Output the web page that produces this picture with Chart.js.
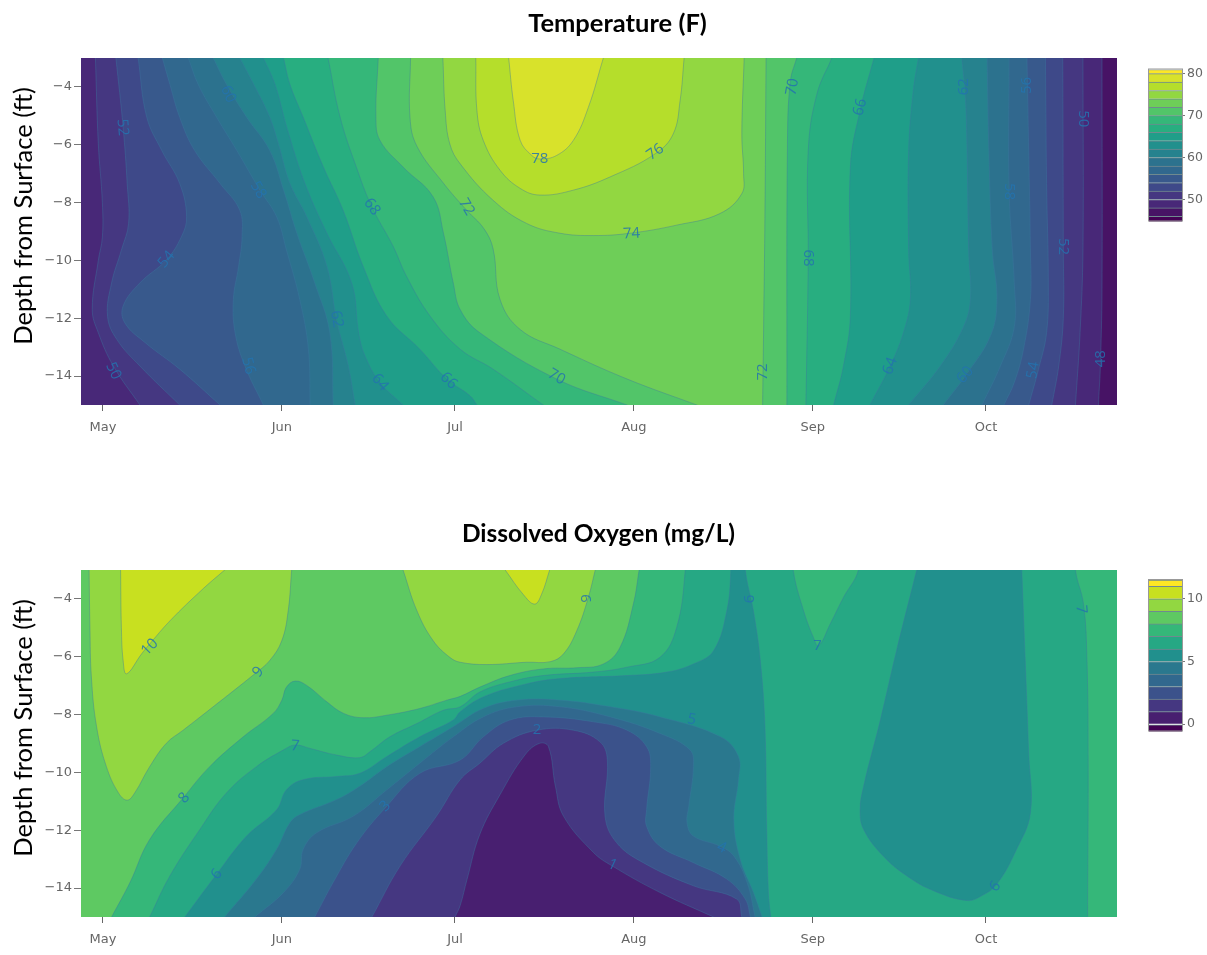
<!DOCTYPE html>
<html>
<head>
<meta charset="utf-8">
<title>Temperature and Dissolved Oxygen</title>
<script src="https://cdn.jsdelivr.net/npm/chart.js@4"></script>
<style>
  html, body { margin: 0; background: #fff; overflow: hidden; width: 1207px; height: 955px; }
  canvas { position: absolute; display: block; }
</style>
</head>
<body>
<canvas id="temp-chart" width="1207" height="440" style="left:0;top:0"></canvas>
<canvas id="temp-bar" width="67" height="170" style="left:1140px;top:60px"></canvas>
<canvas id="do-chart" width="1207" height="440" style="left:0;top:512px"></canvas>
<canvas id="do-bar" width="67" height="170" style="left:1140px;top:570px"></canvas>
<script>
// Axis ticks: x is days since May 1, y is depth in feet
const monthTicks = [0, 31, 61, 92, 123, 153];
const monthLabels = ['May', 'Jun', 'Jul', 'Aug', 'Sep', 'Oct'];
const depthTicks = [-4, -6, -8, -10, -12, -14];

// Temperature contours, [day, depth], left edge then right edge of each level
const temp50L = [[-1.3,-3],[-0.8,-5.97],[-0.1,-8],[-0.1,-9.2],[-0.8,-10],[-1.85,-11.7],[-0.8,-12.5],[1.8,-13.65],[6.4,-15]];
const temp52L = [[2.25,-3],[3.5,-5.4],[4.2,-7.34],[4.45,-8.72],[3.2,-9.64],[1.5,-10.78],[0.8,-11.93],[2.4,-12.73],[6.4,-13.65],[13.3,-15]];
const temp54L = [[6.1,-3],[7.6,-5.05],[10.2,-6.2],[13.3,-7.34],[14.5,-8.49],[13.6,-9.18],[11,-9.98],[6.4,-10.78],[3.5,-11.58],[3.8,-12.16],[7.3,-12.84],[13.3,-13.76],[20.3,-15]];
const temp56L = [[10.3,-3],[11.6,-3.91],[13.3,-5.05],[15.9,-6.2],[20.3,-7.34],[23.7,-8.26],[24.1,-9.18],[23.5,-10.21],[22.6,-11.35],[22.9,-12.5],[24.6,-13.65],[27.8,-15]];
const temp58L = [[14.8,-3],[16.5,-3.91],[19.7,-5.05],[23.2,-6.2],[27.2,-7.57],[30.1,-8.49],[31.8,-9.64],[34.1,-11.35],[35.6,-13.07],[35.9,-15]];
const temp60L = [[19.1,-3],[21.4,-3.91],[24.9,-5.05],[28.9,-6.2],[31.3,-7.57],[33.6,-9.06],[36.7,-10.78],[39.3,-12.5],[39.9,-15]];
const temp62L = [[23.7,-3],[26.1,-3.91],[28.9,-5.05],[30.4,-5.97],[32.4,-7.34],[35.3,-8.49],[38.8,-10.21],[40.5,-12.08],[42.5,-13.65],[43.7,-15]];
const temp64L = [[27.8,-3],[29.8,-3.91],[32,-5.5],[35,-7.34],[38.8,-9.06],[43.1,-10.78],[44.3,-12.5],[45.4,-13.3],[48,-14.22],[52,-15]];
const temp66L = [[31.3,-3],[32.4,-3.91],[34.7,-5.05],[38.2,-6.77],[41.6,-8.26],[45.1,-10.21],[49.2,-11.93],[54.9,-13.07],[59.6,-14.1],[63.6,-14.68],[64.8,-15]];
const temp68L = [[39,-3],[41.1,-5.05],[43.9,-6.77],[46.6,-8.15],[50.3,-9.52],[52.6,-10.55],[56.7,-11.93],[61.9,-13.07],[67.6,-13.76],[76.3,-15]];
const temp70L = [[47.7,-3],[47.3,-5.05],[48,-5.85],[52,-6.77],[57.2,-7.8],[59,-9.06],[60.7,-10.78],[61.9,-11.7],[65.3,-12.5],[78.6,-14.1],[90.8,-15]];
const temp72L = [[53.3,-3],[53.2,-5.05],[54.4,-6.05],[59,-7.33],[63,-8.26],[66,-8.9],[67.6,-9.6],[68.8,-11.35],[72.3,-12.39],[79.2,-13.07],[90.8,-14.1],[102.9,-15]];
const temp48R = [[173.1,-3],[173.1,-11],[172.8,-13.76],[172.5,-15]];
const temp50R = [[169.8,-3],[169.8,-9.64],[169.3,-12.5],[168.5,-15]];
const temp52R = [[166.3,-3],[166.4,-9.64],[166.4,-12],[165.6,-13.65],[164.4,-15]];
const temp54R = [[163.3,-3],[163.5,-7.34],[163.8,-10.78],[163.5,-12.5],[162.1,-13.76],[160.4,-15]];
const temp56R = [[160.1,-3],[160.4,-6.2],[160.7,-9.64],[160.7,-11.35],[159.5,-13.07],[157.9,-14.22],[156.1,-15]];
const temp58R = [[157,-3],[157,-7.57],[157.9,-10.78],[157.9,-12.3],[155.5,-13.65],[152.3,-15]];
const temp60R = [[153.2,-3],[153.5,-6.2],[154.1,-9.64],[154.9,-11.35],[153.8,-12.6],[149.4,-14],[145.6,-15]];
const temp62R = [[148.8,-3],[149.4,-4.25],[149.7,-5.97],[150,-9.64],[150.3,-11.35],[149.1,-12.3],[145.1,-13.65],[139.6,-15]];
const temp64R = [[141.3,-3],[140.4,-4.14],[139.6,-6.2],[139.6,-9.64],[139.9,-11.35],[138.7,-12.5],[136.4,-13.65],[132.9,-15]];
const temp66R = [[133.6,-3],[131.2,-4.8],[129.5,-6.77],[129.5,-11.93],[128.3,-13.65],[126.6,-15]];
const temp68R = [[126.3,-3],[123.7,-4.25],[122.2,-6.2],[122.2,-9.98],[121.8,-15]];
const temp70R = [[120.2,-3],[119.1,-3.8],[118.6,-6],[118.5,-15]];
const temp72R = [[114.9,-3],[114.7,-8.5],[114.5,-11.9],[114.3,-15]];
const temp74Loop = [[58.9,-3],[59.3,-4.82],[60.1,-5.97],[61.9,-6.66],[67.6,-7.92],[73.4,-8.72],[79.2,-9.06],[85,-9.14],[91.3,-9.06],[99.4,-8.78],[106.9,-8.38],[110.7,-7.69],[111,-7],[110.7,-5.63],[111.1,-3]];
const temp76Loop = [[64.6,-3],[64.8,-4.82],[65.9,-5.85],[68.8,-6.88],[72.3,-7.51],[75.7,-7.74],[81.5,-7.57],[87.9,-7.11],[95.7,-6.31],[98.8,-5.63],[100,-4.48],[100.7,-3]];
const temp78Loop = [[70.3,-3],[71.1,-4.48],[72.3,-5.85],[74.3,-6.37],[75.7,-6.49],[78.6,-6.37],[81.5,-5.85],[84.1,-4.71],[86.7,-3]];

// Temperature colour bar and fills
const tempEdges = [45,46,48,50,52,54,56,58,60,62,64,66,68,70,72,74,76,78,80,81];
const tempColors = ['#440154','#471365','#482878','#453781','#3e4989','#38598c','#31688e','#2c728e','#26828e','#21908d','#1f9e89','#28ae80','#35b779','#52c569','#6ece58','#92d741','#b5de2b','#d8e22b','#fde725'];
const tempBarTicks = [50, 60, 70, 80];

// Temperature contour labels
const tempLabelText = ['52','50','54','56','58','60','62','64','66','68','72','70','78','76','74','72','70','68','66','64','62','60','58','56','54','52','50','48'];
const tempLabelDay = [3.4,1.8,11,25.2,26.9,21.7,40.5,48,59.9,46.6,63,78.6,75.7,95.7,91.6,114.3,119.5,122.2,131.2,136.4,149.1,149.4,157.1,160.1,161.2,166.4,169.8,172.8];
const tempLabelDepth = [-5.4,-13.82,-9.97,-13.65,-7.57,-4.25,-12.03,-14.22,-14.16,-8.15,-8.15,-14.03,-6.49,-6.25,-9.08,-13.86,-4,-9.92,-4.7,-13.65,-3.99,-13.96,-7.62,-3.95,-13.8,-9.52,-5.1,-13.4];
const tempLabelAngle = [85,65,-50,75,60,65,80,50,45,55,60,30,0,-35,-3,-90,-80,90,-75,-70,-90,-50,90,-90,-80,90,90,-90];

// Dissolved oxygen contours, same units
const do10West = [[3.06,-3],[3.2,-4.99],[3.5,-6.13],[4.1,-6.59],[6.7,-5.9],[8.1,-5.56],[11.6,-4.76],[17.4,-3.64],[21.1,-3]];
const do10Mid = [[69.7,-3],[72.8,-3.84],[74.8,-4.18],[76,-3.84],[77.4,-3]];
const do9West = [[-2.4,-3],[-2.25,-4.99],[-2,-6.7],[-1.1,-8.42],[0.6,-9.8],[2.7,-10.71],[4.2,-10.96],[5.5,-10.71],[8.1,-9.8],[11,-8.99],[13.9,-8.54],[19.1,-7.73],[26.3,-6.59],[28.9,-6.13],[31,-5.44],[32.1,-4.41],[32.7,-3]];
const do9Mid = [[52,-3],[54.4,-4.41],[57.2,-5.44],[60.1,-6.02],[61.9,-6.19],[66.5,-6.27],[73.4,-6.19],[77.5,-6.17],[79.8,-5.9],[82.1,-5.1],[84.1,-3.95],[85.3,-3]];
const do8Edge = [[-20,-16],[-1.2,-16],[1.5,-15],[4.7,-13.8],[8.1,-12.32],[13.9,-10.88],[18.5,-9.8],[24.3,-8.77],[29.5,-7.96],[31,-7.5],[31.8,-7.05],[33.3,-6.84],[35.3,-6.99],[38.8,-7.56],[41.7,-7.96],[45.1,-8.11],[49.2,-8.02],[54.9,-7.79],[59.6,-7.5],[61.9,-7.37],[65.3,-7.05],[70.5,-6.65],[76.3,-6.42],[82.1,-6.38],[86.7,-6.25],[89.6,-5.67],[91.9,-4.18],[92.9,-3],[93.7,-2],[-20,-2]];
const do7Edge = [[8.1,-15],[11.6,-13.58],[16.8,-11.97],[21.4,-10.71],[26.6,-9.8],[31.3,-9.22],[33.3,-9.05],[35.9,-9.17],[40.5,-9.4],[44.5,-9.49],[46.3,-9.28],[49.7,-8.77],[54.4,-8.31],[59,-7.85],[61.9,-7.73],[65.3,-7.22],[70.5,-6.87],[76.3,-6.65],[85,-6.53],[90.8,-6.36],[96.5,-6.02],[99.4,-4.99],[100.9,-3],[100.9,-2],[119.6,-2],[119.6,-3],[121.4,-4.41],[123.1,-5.33],[124,-5.62],[126,-4.87],[128.3,-3.95],[130.9,-3],[130.9,-2],[168.5,-2],[168.5,-3],[169.9,-4.18],[170.5,-6.13],[170.7,-9.57],[170.6,-15]];
const do6Edge = [[14.2,-15],[19.7,-13.52],[24.9,-12.2],[30.1,-11.29],[31.8,-10.6],[34.7,-10.25],[40.5,-10.14],[44.5,-10.03],[49.2,-9.45],[54.9,-8.77],[60.7,-8.19],[61.9,-7.9],[65.9,-7.39],[72.3,-6.99],[78.8,-6.76],[90.8,-6.65],[97.7,-6.53],[102.3,-6.25],[105.8,-5.79],[108.1,-4.41],[108.8,-3],[108.8,-2],[111.3,-2],[111.3,-3],[112.7,-4.41],[113.9,-6.13],[114.7,-8.42],[115,-11.86],[115.3,-14.15],[115.7,-15]];
const do6Hole = [[141,-3],[137.5,-5.79],[134.7,-8.19],[131.8,-10.48],[131.2,-11.29],[131.8,-11.97],[135.2,-12.89],[139.3,-13.58],[143.9,-14.09],[149.7,-14.43],[152.3,-14.26],[154.9,-13.86],[158.3,-12.66],[160.7,-11.4],[160.4,-9.34],[159.8,-6.13],[159.2,-3]];
const do5Edge = [[21.1,-15],[26.6,-13.69],[30.1,-12.66],[32.4,-11.74],[34.1,-11.46],[40.5,-10.94],[44.5,-10.48],[49.2,-9.8],[54.9,-9.11],[60.7,-8.42],[65.9,-7.79],[71.7,-7.5],[79.2,-7.5],[87.9,-7.73],[96.5,-8.08],[107,-8.77],[110.1,-9.45],[110.1,-10.25],[109.3,-11.63],[110.4,-13],[112.7,-14.15],[114.2,-15]];
const do4Edge = [[26.3,-15],[31.3,-14.15],[34.1,-13.35],[34.7,-12.66],[37,-12.09],[43.4,-11.51],[49.2,-10.6],[54.9,-9.68],[60.7,-8.77],[65.9,-8.08],[71.7,-7.73],[79.2,-7.73],[87.9,-8.08],[96.5,-8.65],[101.7,-9.22],[102.3,-9.8],[101.5,-11.17],[101.2,-11.74],[102.3,-12.2],[106.9,-12.55],[109.3,-12.89],[111.6,-13.8],[113,-15]];
const do3Edge = [[36.7,-15],[39.9,-13.8],[44,-12.43],[48.9,-11.23],[54.9,-10.03],[61.9,-9.57],[65.9,-8.77],[70.5,-8.19],[76.3,-8.08],[85,-8.25],[90.8,-8.54],[94.2,-9.11],[94.9,-9.8],[94.2,-11.29],[94.2,-11.86],[96.5,-12.55],[102.3,-13.12],[108.1,-13.69],[111.3,-14.38],[112.2,-15]];
const do2Edge = [[46.6,-15],[51.5,-13.23],[57.8,-11.51],[61.9,-10.25],[65.3,-9.68],[69.4,-8.99],[75.2,-8.54],[81.5,-8.54],[86.1,-8.94],[87.4,-9.57],[87,-11.51],[89,-12.43],[93.6,-13.12],[102.3,-13.92],[109.8,-14.38],[110.7,-15]];
const do1Edge = [[61,-15],[61.9,-14.6],[63.1,-13.69],[65.3,-12.14],[68.8,-10.77],[73.1,-9.4],[75.7,-8.99],[77.2,-9.11],[78.4,-10.48],[79.8,-11.51],[85,-12.77],[88.2,-13.23],[96.5,-14.15],[105.8,-15]];

// Dissolved oxygen colour bar and fills
const doEdges = [-0.5,0,1,2,3,4,5,6,7,8,9,10,11,11.5];
const doColors = ['#440154','#481f70','#453781','#3b528b','#31688e','#2a788e','#21908d','#26a884','#35b779','#5ec962','#92d741','#c8e020','#fde725'];
const doBarTicks = [0, 5, 10];

// Dissolved oxygen contour labels
const doLabelText = ['10','9','8','7','6','3','9','6','2','1','5','4','7','6','7'];
const doLabelDay = [8.1,26.9,14.1,33.3,19.7,48.9,83.8,112,75.2,88.3,102,107.2,123.8,154.6,169.5];
const doLabelDepth = [-5.67,-6.53,-10.88,-9.09,-13.52,-11.17,-3.98,-4,-8.51,-13.2,-8.17,-12.6,-5.62,-13.94,-4.36];
const doLabelAngle = [-45,-50,-50,5,-50,-45,-90,-90,0,25,10,25,0,-50,85];

const wholePlot = [[-20,-2],[200,-2],[200,-16],[-20,-16]];
const fontTicks = '"DejaVu Sans", sans-serif';
const fontTitles = 'Lato, sans-serif';

// Carries a contour's last stretch on past the plot edge so it leaves the plot without a hook
function beyond(a, b, depth) {
  const slope = (a[0] - b[0]) / (a[1] - b[1]);
  return [a[0] + slope * (depth - a[1]), depth];
}

function capped(list, depth) {
  const n = list.length;
  return [beyond(list[0], list[1], depth), ...list, beyond(list[n - 1], list[n - 2], depth)];
}

// Region between a left and a right contour
function bandShape(left, right) {
  const l = left.length;
  const r = right.length;
  return [beyond(left[0], left[1], -2), ...left, beyond(left[l - 1], left[l - 2], -16),
    beyond(right[r - 1], right[r - 2], -16), ...right.slice().reverse(), beyond(right[0], right[1], -2)];
}

const tempShapes = [
  wholePlot,
  [[-20,-2],[-20,-16],[172.5,-16],...temp48R.slice().reverse(),[173.1,-2]],
  bandShape(temp50L, temp50R), bandShape(temp52L, temp52R), bandShape(temp54L, temp54R),
  bandShape(temp56L, temp56R), bandShape(temp58L, temp58R), bandShape(temp60L, temp60R),
  bandShape(temp62L, temp62R), bandShape(temp64L, temp64R), bandShape(temp66L, temp66R),
  bandShape(temp68L, temp68R), bandShape(temp70L, temp70R), bandShape(temp72L, temp72R),
  capped(temp74Loop, -2), capped(temp76Loop, -2), capped(temp78Loop, -2)
];
const tempFills = tempColors.slice(1, 18);

const doShapes = [
  wholePlot, do8Edge, capped(do9West, -2), capped(do9Mid, -2), capped(do10West, -2), capped(do10Mid, -2),
  capped(do7Edge, -16), capped(do6Edge, -16), capped(do6Hole, -2), capped(do5Edge, -16),
  capped(do4Edge, -16), capped(do3Edge, -16), capped(do2Edge, -16), capped(do1Edge, -16)
];
const doFills = [doColors[8], doColors[9], doColors[10], doColors[10], doColors[11], doColors[11],
  doColors[7], doColors[6], doColors[6], doColors[5], doColors[4], doColors[3], doColors[2], doColors[1]];

// Writes the level numbers along the contours, the side title, and moves the chart title
const contourLabels = {
  id: 'contourLabels',
  afterLayout(chart, args, opts) {
    chart.titleBlock.left = 2 * opts.titleCenter - 1207;
    chart.titleBlock.right = 1207;
  },
  afterDatasetsDraw(chart, args, opts) {
    const { ctx, scales, chartArea } = chart;
    ctx.save();
    ctx.font = '15px "Open Sans", sans-serif';
    ctx.textAlign = 'center';
    ctx.textBaseline = 'middle';
    ctx.fillStyle = 'rgba(35,115,175,0.85)';
    opts.text.forEach((t, i) => {
      ctx.save();
      ctx.translate(scales.x.getPixelForValue(opts.day[i]), scales.y.getPixelForValue(opts.depth[i]));
      ctx.rotate(opts.angle[i] * Math.PI / 180);
      ctx.fillText(t, 0, 0);
      ctx.restore();
    });
    ctx.translate(24, chartArea.top + 158);
    ctx.rotate(-Math.PI / 2);
    ctx.font = '25.5px ' + fontTitles;
    ctx.fillStyle = '#000';
    ctx.fillText('Depth from Surface (ft)', 0, 0);
    ctx.restore();
  }
};

function contourChart(id, title, titleSize, titleCenter, titleTop, shapes, fills, text, day, depth, angle) {
  return new Chart(document.getElementById(id), {
    type: 'scatter',
    data: {
      datasets: shapes.map((shape, i) => ({
        data: shape,
        order: shapes.length - i,
        showLine: true,
        fill: 'shape',
        backgroundColor: fills[i],
        borderColor: i === 0 ? fills[i] : 'rgba(60,120,160,0.4)',
        borderWidth: i === 0 ? 0 : 1,
        tension: i === 0 ? 0 : 0.4,
        pointRadius: 0
      }))
    },
    plugins: [contourLabels],
    options: {
      responsive: false,
      animation: false,
      layout: { padding: { right: 90 } },
      elements: { line: { capBezierPoints: false } },
      plugins: {
        legend: { display: false },
        tooltip: { enabled: false },
        title: {
          display: true,
          text: title,
          color: '#000',
          font: { family: fontTitles, size: titleSize, weight: 'bold', lineHeight: 1 },
          padding: { top: titleTop, bottom: 58 - titleTop - titleSize }
        },
        contourLabels: { text, day, depth, angle, titleCenter }
      },
      scales: {
        x: {
          type: 'linear',
          min: -3.8,
          max: 175.7,
          afterFit: s => { s.height = 35; },
          afterBuildTicks: s => { s.ticks = monthTicks.map(value => ({ value })); },
          grid: { drawOnChartArea: false, tickLength: 6, color: '#666' },
          border: { display: false },
          ticks: {
            autoSkip: false,
            maxRotation: 0,
            padding: 9,
            color: '#666',
            font: { family: fontTicks, size: 13 },
            callback: v => monthLabels[monthTicks.indexOf(v)]
          }
        },
        y: {
          type: 'linear',
          min: -15,
          max: -3,
          afterFit: s => { s.width = 81; },
          afterBuildTicks: s => { s.ticks = depthTicks.map(value => ({ value })); },
          grid: { drawOnChartArea: false, tickLength: 7, color: '#777' },
          border: { display: false },
          ticks: {
            padding: 2,
            color: '#666',
            font: { family: fontTicks, size: 13 },
            callback: v => '\u2212' + Math.abs(v)
          }
        }
      }
    }
  });
}

// Grey frame round a colour bar, with the lowest colour behind the bands so no gap shows
const barFrame = {
  id: 'barFrame',
  beforeDatasetsDraw(chart) {
    const { ctx, chartArea: a } = chart;
    ctx.save();
    ctx.fillStyle = chart.data.datasets[0].backgroundColor;
    ctx.fillRect(a.left, a.bottom - 4, a.width, 5);
    ctx.restore();
  },
  afterDraw(chart) {
    const { ctx, chartArea: a } = chart;
    ctx.save();
    ctx.strokeStyle = '#999';
    ctx.lineWidth = 1;
    ctx.strokeRect(a.left - 0.5, a.top - 0.5, a.width + 1, a.height + 1);
    ctx.restore();
  }
};

function colorBar(id, edges, colors, tickValues, padTop, padBottom) {
  return new Chart(document.getElementById(id), {
    type: 'bar',
    data: {
      labels: [''],
      datasets: colors.map((color, i) => ({
        data: [[edges[i], edges[i + 1]]],
        backgroundColor: color,
        borderColor: '#6f8a8f',
        borderWidth: { top: 1, bottom: 0, left: 0, right: 0 },
        borderSkipped: false,
        grouped: false,
        barPercentage: 1,
        categoryPercentage: 1
      }))
    },
    plugins: [barFrame],
    options: {
      responsive: false,
      animation: false,
      layout: { padding: { left: 9, top: padTop, bottom: padBottom } },
      plugins: { legend: { display: false }, tooltip: { enabled: false } },
      scales: {
        x: { display: false },
        y: {
          position: 'right',
          min: edges[0],
          max: edges[edges.length - 1],
          afterFit: s => { s.width = 25; },
          afterBuildTicks: s => { s.ticks = tickValues.map(value => ({ value })); },
          grid: { drawOnChartArea: false, tickLength: 3, color: '#777' },
          border: { display: false },
          ticks: { padding: 2, color: '#666', font: { family: fontTicks, size: 12.5 } }
        }
      }
    }
  });
}

document.addEventListener('DOMContentLoaded', () => {
  contourChart('temp-chart', 'Temperature (F)', 25.5, 617.5, 11, tempShapes, tempFills, tempLabelText, tempLabelDay, tempLabelDepth, tempLabelAngle);
  contourChart('do-chart', 'Dissolved Oxygen (mg/L)', 24.5, 598.5, 10, doShapes, doFills, doLabelText, doLabelDay, doLabelDepth, doLabelAngle);
  colorBar('temp-bar', tempEdges, tempColors, tempBarTicks, 9, 7);
  colorBar('do-bar', doEdges, doColors, doBarTicks, 10, 5);
});
</script>
</body>
</html>
